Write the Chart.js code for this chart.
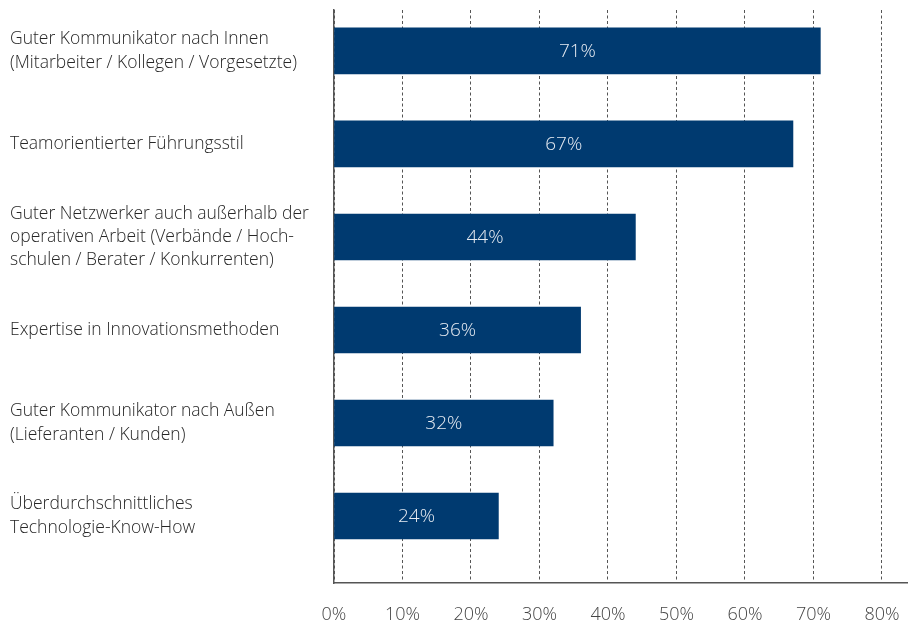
<!DOCTYPE html>
<html lang="de">
<head>
<meta charset="utf-8">
<title>Führungseigenschaften</title>
<script src="https://cdn.jsdelivr.net/npm/chart.js@4/dist/chart.umd.min.js"></script>
<style>
  html, body { margin: 0; padding: 0; background: #fff; }
  #chart { display: block; }
</style>
</head>
<body>
<canvas id="chart" width="920" height="624"></canvas>
<script>
// Kategorien (mehrzeilig) und Anteile in Prozent
const categories = [
  ['Guter Kommunikator nach Innen', '(Mitarbeiter / Kollegen / Vorgesetzte)'],
  ['Teamorientierter Führungsstil'],
  ['Guter Netzwerker auch außerhalb der', 'operativen Arbeit (Verbände / Hoch-', 'schulen / Berater / Konkurrenten)'],
  ['Expertise in Innovationsmethoden'],
  ['Guter Kommunikator nach Außen', '(Lieferanten / Kunden)'],
  ['Überdurchschnittliches', 'Technologie-Know-How']
];
const shares = [71, 67, 44, 36, 32, 24];
const xTicks = [0, 10, 20, 30, 40, 50, 60, 70, 80];

const FONT = '"Open Sans", "Noto Sans", sans-serif';
const BAR_COLOR = '#003a70';

// Prozentwerte mittig in die Balken schreiben
const valueLabels = {
  id: 'valueLabels',
  afterDatasetsDraw(chart) {
    const ctx = chart.ctx;
    const meta = chart.getDatasetMeta(0);
    ctx.save();
    ctx.font = '300 19px ' + FONT;
    ctx.fillStyle = '#e6ebf2';
    ctx.textAlign = 'center';
    ctx.textBaseline = 'middle';
    meta.data.forEach((bar, i) => {
      const cx = (bar.x + bar.base) / 2;
      ctx.fillText(shares[i] + '%', cx, bar.y + 1);
    });
    ctx.restore();
  }
};

const points = shares.map((v, i) => ({ x: v, y: i }));

new Chart(document.getElementById('chart'), {
  type: 'bar',
  data: {
    datasets: [{
      data: points,
      backgroundColor: BAR_COLOR,
      borderWidth: 0,
      barThickness: 46
    }]
  },
  options: {
    indexAxis: 'y',
    responsive: false,
    animation: false,
    layout: { padding: { left: 10, top: 10, right: 13, bottom: 0 } },
    plugins: {
      legend: { display: false },
      tooltip: { enabled: false }
    },
    scales: {
      x: {
        type: 'linear',
        position: 'bottom',
        min: 0,
        max: 83.65,
        afterBuildTicks(scale) {
          scale.ticks = xTicks.map(v => ({ value: v }));
        },
        afterFit(scale) {
          scale.height = 41;
          scale.paddingLeft = 0;
          scale.paddingRight = 0;
        },
        grid: {
          drawTicks: false,
          color: '#555',
          lineWidth: 1
        },
        border: { display: true, color: '#555', width: 1.5, dash: [3, 2.5] },
        ticks: {
          padding: 21,
          color: '#444',
          font: { family: FONT, size: 18, weight: '300' },
          callback: v => v + '%'
        }
      },
      y: {
        type: 'linear',
        position: 'left',
        reverse: true,
        offset: false,
        min: -0.44,
        max: 5.72,
        afterBuildTicks(scale) {
          scale.ticks = categories.map((c, i) => ({ value: i }));
        },
        afterFit(scale) {
          scale.width = 324;
          scale.paddingTop = 0;
          scale.paddingBottom = 0;
        },
        grid: { display: false, drawTicks: false, offset: false },
        border: { display: true, color: '#555', width: 1.5 },
        ticks: {
          crossAlign: 'far',
          padding: 0,
          color: '#262626',
          font: { family: FONT, size: 17.5, weight: '300', lineHeight: 1.34 },
          callback: v => categories[v]
        }
      }
    }
  },
  plugins: [valueLabels]
});
</script>
</body>
</html>
